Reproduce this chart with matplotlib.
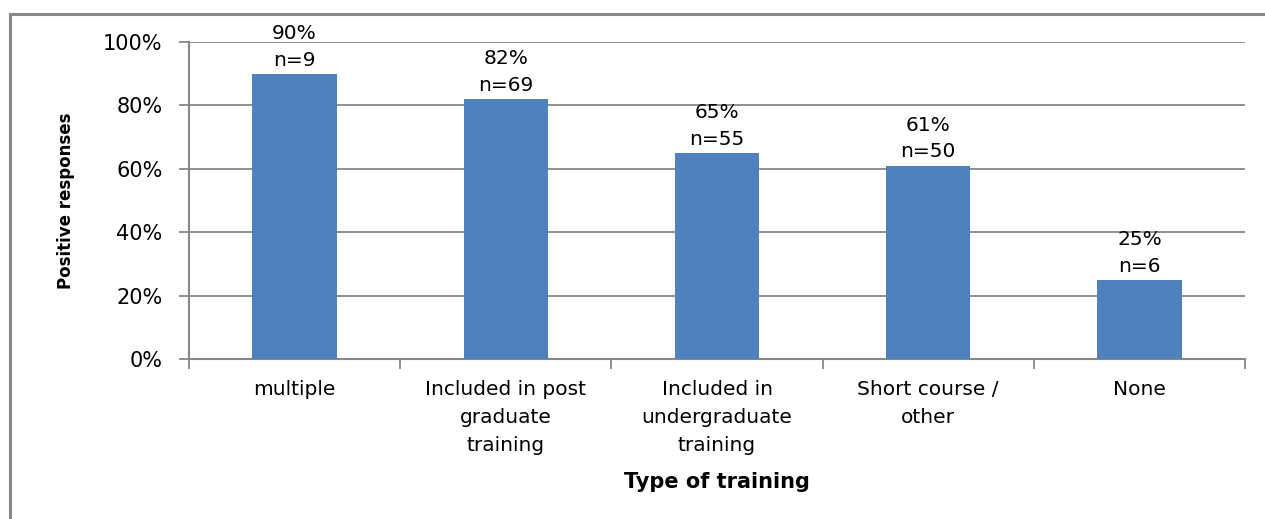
import matplotlib
matplotlib.use("Agg")
import matplotlib.pyplot as plt
from matplotlib.lines import Line2D
import numpy as np

categories = ["multiple", "Included in post\ngraduate\ntraining", "Included in\nundergraduate\ntraining",
              "Short course /\nother", "None"]
values = [90, 82, 65, 61, 25]
counts = [9, 69, 55, 50, 6]
yticks = [0, 20, 40, 60, 80, 100]

W, H = 1265, 519
fig = plt.figure(figsize=(W / 100, H / 100), dpi=100)
fig.patch.set_facecolor("white")

# outer chart frame (top and left edges visible)
gray = "#888888"
fig.add_artist(Line2D([10 / W, 1.0], [1 - 14 / H, 1 - 14 / H], color=gray, lw=2.2, transform=fig.transFigure))
fig.add_artist(Line2D([10 / W, 10 / W], [0, 1 - 14 / H], color=gray, lw=2.2, transform=fig.transFigure))

ax = fig.add_axes([189 / W, 1 - 359 / H, (1245 - 189) / W, (359 - 42) / H])
x = np.arange(len(categories))
ax.bar(x, values, width=0.40, color="#4F81BD", zorder=3)
ax.set_xlim(-0.5, len(categories) - 0.5)
ax.set_ylim(0, 100)
ax.set_yticks(yticks)
ax.set_yticklabels([f"{v}%" for v in yticks], fontsize=15)
ax.yaxis.grid(True, color=gray, lw=1.3, zorder=0)
ax.set_axisbelow(True)
for s in ["top", "right"]:
    ax.spines[s].set_visible(False)
for s in ["left", "bottom"]:
    ax.spines[s].set_color(gray)
    ax.spines[s].set_linewidth(1.5)
ax.tick_params(axis="y", length=7, width=1.3, color=gray, pad=12)

ax.set_xticks(x)
ax.set_xticklabels(categories, fontsize=14.5, linespacing=1.62)
ax.tick_params(axis="x", length=0, pad=15)
ax.set_xticks(np.arange(len(categories) + 1) - 0.5, minor=True)
ax.tick_params(axis="x", which="minor", length=7, width=1.3, color=gray)

for xi, v, n in zip(x, values, counts):
    ax.annotate(f"{v}%\nn={n}", (xi, v), xytext=(0, 3), textcoords="offset points",
                ha="center", va="bottom", fontsize=14.5, linespacing=1.5)

ax.set_ylabel("Positive responses", fontsize=12, fontweight="bold", labelpad=20)
ax.set_xlabel("Type of training", fontsize=15, fontweight="bold", labelpad=12)

fig.savefig("out.png", dpi=100)
